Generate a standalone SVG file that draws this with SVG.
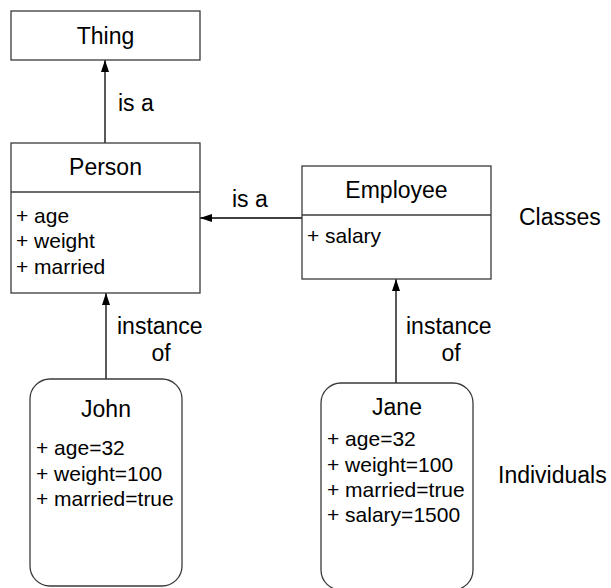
<svg xmlns="http://www.w3.org/2000/svg" width="611" height="588" viewBox="0 0 611 588">
<defs>
<style>
.box{fill:#fff;stroke:#3a3a3a;stroke-width:1.3}
.div{stroke:#3a3a3a;stroke-width:1.3}
.t{font-family:"Liberation Sans",Arial,sans-serif;font-size:23px;fill:#000}
.a{font-family:"Liberation Sans",Arial,sans-serif;font-size:21px;fill:#000}
.c{stroke:#000;stroke-width:1.3;fill:none;marker-end:url(#arr)}
</style>
<marker id="arr" viewBox="0 0 12 8" refX="12" refY="4" markerWidth="12" markerHeight="8" markerUnits="userSpaceOnUse" orient="auto">
<path d="M0,0 L12,4 L0,8 Z" fill="#000"/>
</marker>
</defs>
<rect width="611" height="588" fill="#fff"/>
<g id="connectors">
<line class="c" x1="105" y1="143" x2="105" y2="60"/>
<line class="c" x1="302" y1="218" x2="200" y2="218"/>
<line class="c" x1="106" y1="379" x2="106" y2="293"/>
<line class="c" x1="396" y1="383" x2="396" y2="279"/>
<text class="t" x="118" y="111">is a</text>
<text class="t" x="232" y="207">is a</text>
<text class="t" x="117" y="334">instance</text>
<text class="t" x="161" y="361" text-anchor="middle">of</text>
<text class="t" x="406" y="334">instance</text>
<text class="t" x="451" y="361" text-anchor="middle">of</text>
</g>
<g id="thing">
<rect class="box" x="11" y="11" width="189" height="49"/>
<text class="t" x="105.5" y="44" text-anchor="middle">Thing</text>
</g>
<g id="person">
<rect class="box" x="11" y="143" width="189" height="150"/>
<line class="div" x1="11" y1="192" x2="200" y2="192"/>
<text class="t" x="105.5" y="175" text-anchor="middle">Person</text>
<text class="a" x="16" y="223">+ age</text>
<text class="a" x="16" y="248">+ weight</text>
<text class="a" x="16" y="274">+ married</text>
</g>
<g id="employee">
<rect class="box" x="302" y="166" width="189" height="113"/>
<line class="div" x1="302" y1="215" x2="491" y2="215"/>
<text class="t" x="396.5" y="198" text-anchor="middle">Employee</text>
<text class="a" x="307" y="243">+ salary</text>
</g>
<g id="classes-label">
<text class="t" x="519" y="225">Classes</text>
</g>
<g id="john">
<rect class="box" x="30" y="379" width="152" height="207" rx="20" ry="20"/>
<text class="t" x="106" y="417" text-anchor="middle">John</text>
<text class="a" x="36" y="455">+ age=32</text>
<text class="a" x="36" y="481">+ weight=100</text>
<text class="a" x="36" y="506">+ married=true</text>
</g>
<g id="jane">
<rect class="box" x="321" y="383" width="152" height="207" rx="20" ry="20"/>
<text class="t" x="397" y="415" text-anchor="middle">Jane</text>
<text class="a" x="327" y="446">+ age=32</text>
<text class="a" x="327" y="472">+ weight=100</text>
<text class="a" x="327" y="497">+ married=true</text>
<text class="a" x="327" y="522">+ salary=1500</text>
</g>
<g id="individuals-label">
<text class="t" x="498" y="483">Individuals</text>
</g>
</svg>
